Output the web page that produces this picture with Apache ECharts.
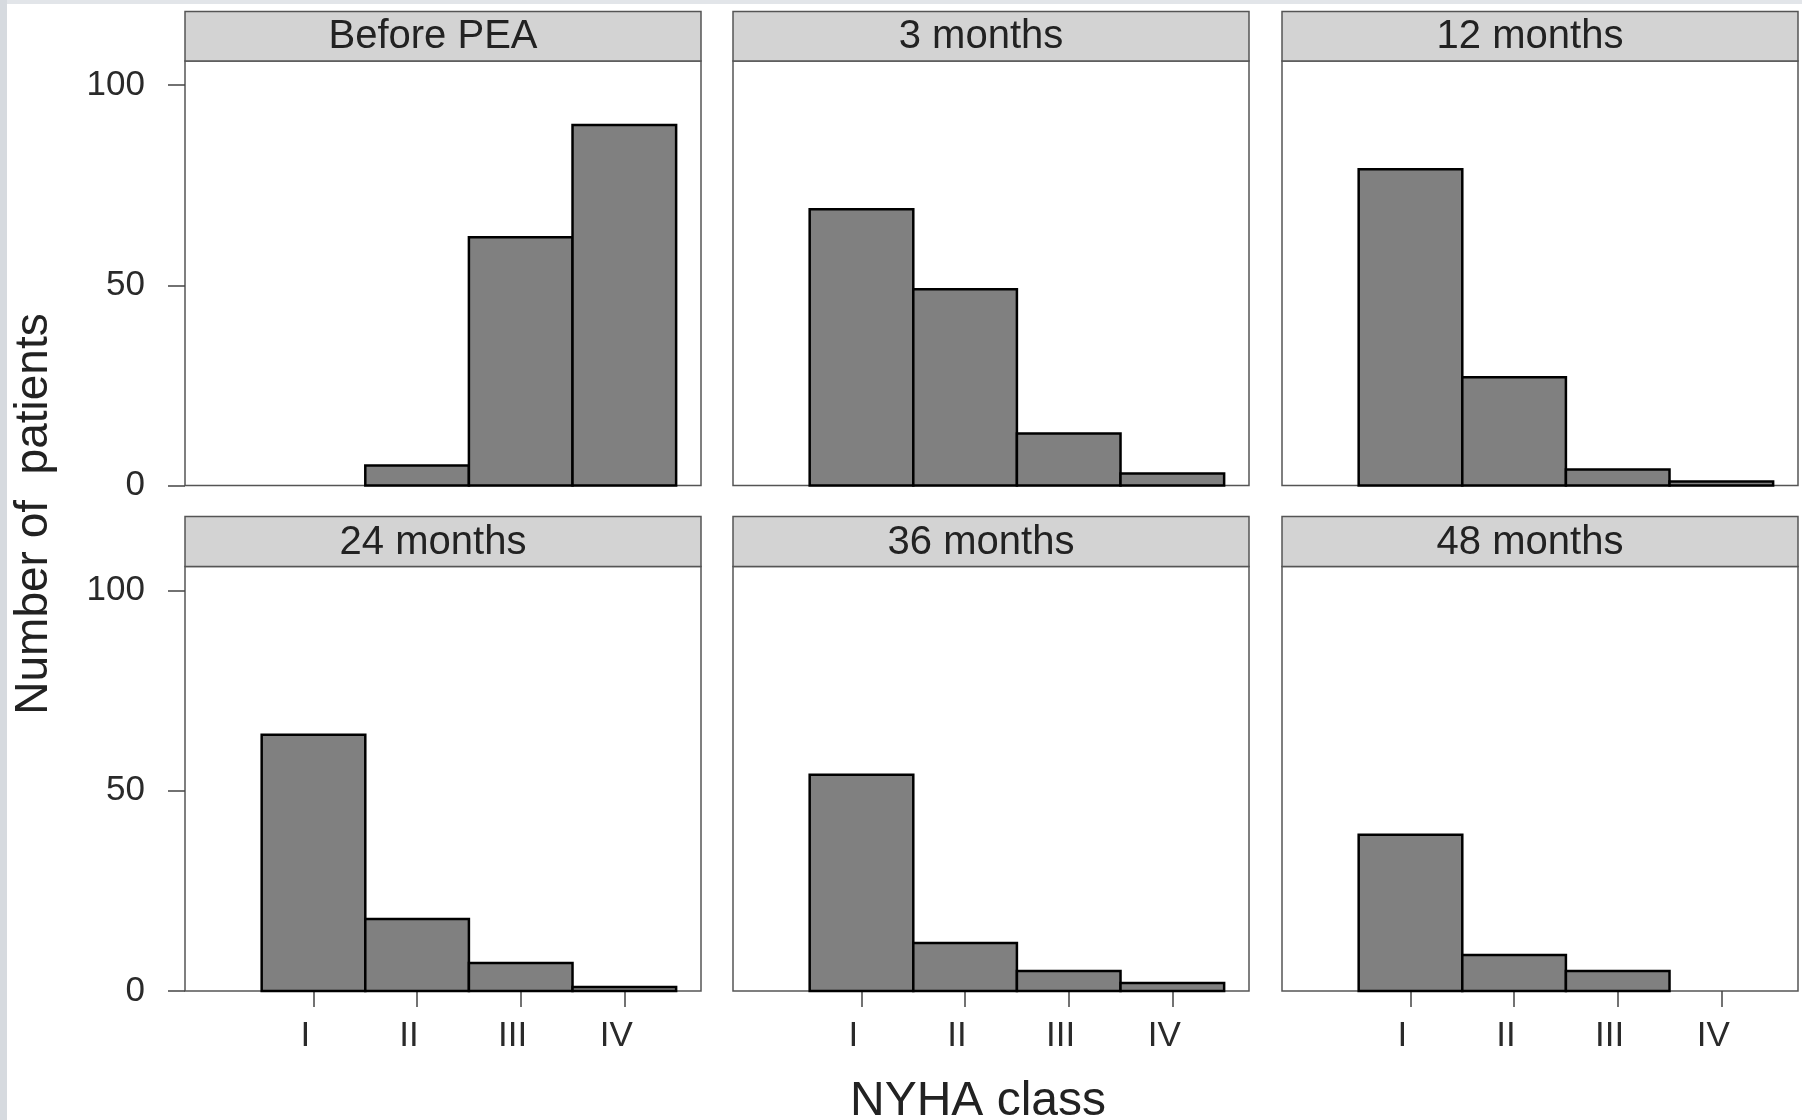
<!DOCTYPE html>
<html>
<head>
<meta charset="utf-8">
<title>NYHA class</title>
<script src="https://cdn.jsdelivr.net/npm/echarts@6/dist/echarts.min.js"></script>
<style>
html, body {margin: 0; padding: 0; background: #fff;}
#main {width: 1802px; height: 1120px;}
</style>
</head>
<body>
<div id="main"></div>
<script>
// data
var classes = ['I', 'II', 'III', 'IV'];
var classPos = [1, 2, 3, 4];
var panels = ['Before PEA', '3 months', '12 months', '24 months', '36 months', '48 months'];
var beforePEA = [0, 5, 62, 90];
var months3 = [69, 49, 13, 3];
var months12 = [79, 27, 4, 1];
var months24 = [64, 18, 7, 1];
var months36 = [54, 12, 5, 2];
var months48 = [39, 9, 5, 0];
var yTicks = [0, 50, 100];

var panelValues = [beforePEA, months3, months12, months24, months36, months48];

var FONT = "'Liberation Sans', Arial, sans-serif";
var colLeft = [185, 733, 1282];
var panelW = 516;
var rowStripTop = [11.5, 516.5];
var rowTop = [61, 566.5];
var panelH = 424.5;

function renderBar(params, api) {
    var x = api.value(0);
    var y = api.value(1);
    if (!y) return;
    var p0 = api.coord([x - 0.5, y]);
    var p1 = api.coord([x + 0.5, 0]);
    return {
        type: 'rect',
        shape: {x: p0[0], y: p0[1], width: p1[0] - p0[0], height: p1[1] - p0[1]},
        style: {fill: '#808080', stroke: '#000', lineWidth: 2.5}
    };
}

function showCharts() {
    var myChart = echarts.init(document.getElementById('main'));
    var grid = [], xAxis = [], yAxis = [], series = [];
    var graphic = [
        {type: 'rect', shape: {x: 0, y: 0, width: 1802, height: 4}, style: {fill: '#e2e5e9'}, silent: true},
        {type: 'rect', shape: {x: 0, y: 0, width: 7, height: 1120}, style: {fill: '#d6dadf'}, silent: true}
    ];

    for (var i = 0; i < panels.length; i++) {
        var row = Math.floor(i / 3), col = i % 3;
        grid.push({
            left: colLeft[col], top: rowTop[row], width: panelW, height: panelH,
            show: true, borderColor: '#555', borderWidth: 1.5, backgroundColor: '#fff'
        });
        xAxis.push({
            type: 'value', gridIndex: i, min: -0.24, max: 4.74,
            axisLine: {show: false, onZero: false},
            splitLine: {show: false},
            axisTick: {show: row === 1, inside: false, customValues: classPos, length: 16, lineStyle: {color: '#444', width: 1.5}},
            axisLabel: {
                show: row === 1, customValues: classPos, margin: 28,
                padding: [0, 16, 0, 0],
                formatter: function (v) { return classes[v - 1]; },
                fontFamily: FONT, fontSize: 35, color: '#2a2a2a'
            }
        });
        yAxis.push({
            type: 'value', gridIndex: i, min: 0, max: 106,
            axisLine: {show: false, onZero: false},
            splitLine: {show: false},
            axisTick: {show: col === 0, inside: false, customValues: yTicks, length: 17, lineStyle: {color: '#444', width: 1.5}},
            axisLabel: {
                show: col === 0, customValues: yTicks, margin: 40,
                fontFamily: FONT, fontSize: 35, color: '#2a2a2a'
            }
        });
        var data = [];
        for (var k = 0; k < classes.length; k++) {
            data.push([classPos[k], panelValues[i][k]]);
        }
        series.push({
            type: 'custom', name: panels[i], xAxisIndex: i, yAxisIndex: i,
            renderItem: renderBar, data: data, clip: false
        });
        // strip with the panel name
        graphic.push({
            type: 'rect',
            shape: {x: colLeft[col], y: rowStripTop[row], width: panelW, height: rowTop[row] - rowStripTop[row]},
            style: {fill: '#d3d3d3', stroke: '#555', lineWidth: 1.5},
            silent: true
        });
        graphic.push({
            type: 'text',
            x: colLeft[col] + panelW / 2 - 10, y: (rowStripTop[row] + rowTop[row]) / 2 + 1,
            style: {text: panels[i], fontFamily: FONT, fontSize: 40, fill: '#222', align: 'center', verticalAlign: 'middle'},
            silent: true
        });
    }

    graphic.push({
        type: 'text', x: 978, y: 1102,
        style: {text: 'NYHA class', fontFamily: FONT, fontSize: 48, fill: '#222', align: 'center', verticalAlign: 'middle'},
        silent: true
    });
    graphic.push({
        type: 'text', x: 34, y: 514, rotation: Math.PI / 2,
        style: {text: 'Number of  patients', fontFamily: FONT, fontSize: 46, fill: '#222', align: 'center', verticalAlign: 'middle'},
        silent: true
    });

    var option = {
        backgroundColor: '#fff',
        animation: false,
        grid: grid,
        xAxis: xAxis,
        yAxis: yAxis,
        series: series,
        graphic: graphic
    };
    myChart.setOption(option);
}

showCharts();
</script>
</body>
</html>
